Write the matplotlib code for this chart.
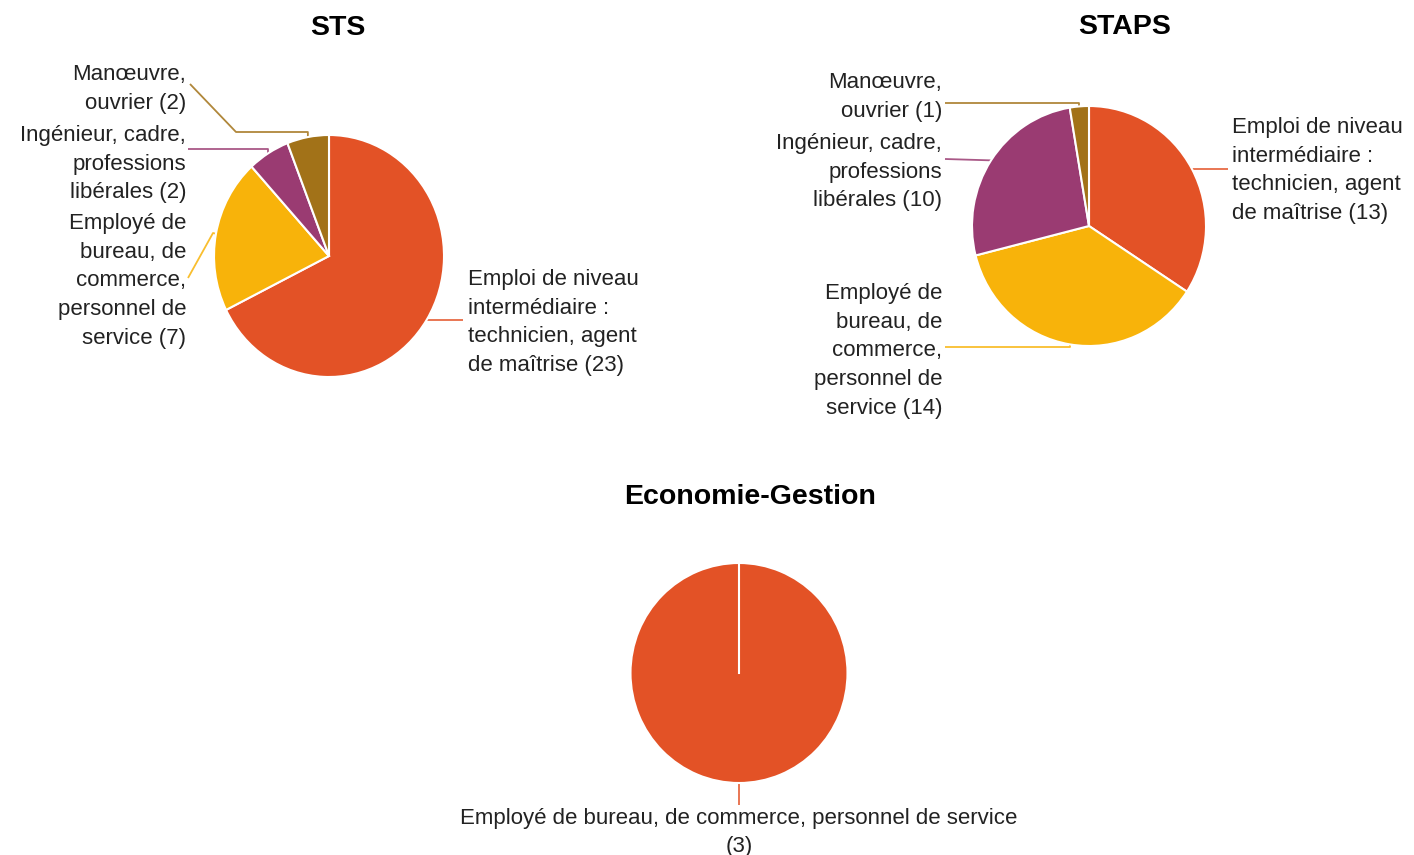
import numpy as np
import matplotlib.pyplot as plt

W, H = 1414, 855
plt.rcParams['font.family'] = ['Liberation Sans', 'DejaVu Sans']

ORANGE, YELLOW, PURPLE, BROWN = '#E35226', '#F8B30A', '#9A3B72', '#A27218'
TEXT = '#222222'

# data
cat_wrapped = [
    "Emploi de niveau\nintermédiaire :\ntechnicien, agent\nde maîtrise",
    "Employé de\nbureau, de\ncommerce,\npersonnel de\nservice",
    "Ingénieur, cadre,\nprofessions\nlibérales",
    "Manœuvre,\nouvrier",
]
sts_values = [23, 7, 2, 2]
staps_values = [13, 14, 10, 1]
eco_names = ["Employé de bureau, de commerce, personnel de service"]
eco_values = [3]

# label layout (pixel positions, y measured from top)
sts_layout = [
    dict(x=468, y=277, ha='left', knots=[(463, None)]),
    dict(x=186, y=221, ha='right', knots=[(213, 233), (188, 278)]),
    dict(x=186, y=133, ha='right', knots=[(None, 149), (188, 149)]),
    dict(x=186, y=72, ha='right', knots=[(None, 132), (236, 132), (190, 84)]),
]
staps_layout = [
    dict(x=1232, y=125, ha='left', knots=[(1228, None)]),
    dict(x=942, y=291, ha='right', knots=[(None, 347), (945, 347)]),
    dict(x=942, y=141, ha='right', knots=[(945, 159)]),
    dict(x=942, y=80, ha='right', knots=[(None, 103), (945, 103)]),
]
eco_layout = [dict(x=739, y=816, ha='center', ls=27.5, knots=[(None, 805)])]

LS = 28.7
PAD = 1.02

fig = plt.figure(figsize=(W / 100, H / 100), dpi=100)
ov = fig.add_axes([0, 0, 1, 1])
ov.set_xlim(0, W)
ov.set_ylim(H, 0)
ov.axis('off')


def draw_pie(title, title_xy, names, values, cols, center, rx, ry, layout, sep=' '):
    cx, cy = center
    ax = fig.add_axes([(cx - rx * PAD) / W, 1 - (cy + ry * PAD) / H,
                       2 * rx * PAD / W, 2 * ry * PAD / H])
    ax.pie(values, colors=cols, startangle=90, counterclock=False, radius=1,
           wedgeprops=dict(edgecolor='white', linewidth=1.5))
    if len(values) == 1:
        # full disc: keep the start edge visible as Google does
        ax.plot([0, np.cos(np.pi / 2)], [0, np.sin(np.pi / 2)], color='white', lw=1.5)
    ax.set_aspect('auto')
    ax.set_xlim(-PAD, PAD)
    ax.set_ylim(-PAD, PAD)
    ax.axis('off')

    ov.text(title_xy[0], title_xy[1], title, ha='center', va='center',
            fontsize=20.5, fontweight='bold', color='black')

    total = float(sum(values))
    cum = 0.0
    for name, v, c, lay in zip(names, values, cols, layout):
        mid = np.deg2rad((cum + v / 2) / total * 360)
        cum += v
        ex, ey = cx + rx * np.sin(mid), cy - ry * np.cos(mid)
        px, py = [ex], [ey]
        for kx, ky in lay['knots']:
            px.append(ex if kx is None else kx)
            py.append(ey if ky is None else ky)
        ov.plot(px, py, color=c, lw=1.3, alpha=0.85, solid_capstyle='butt')
        text = name + sep + f"({v})"
        step = lay.get('ls', LS)
        for i, line in enumerate(text.split('\n')):
            ov.text(lay['x'], lay['y'] + i * step, line, ha=lay['ha'],
                    va='center_baseline', fontsize=16, color=TEXT)


cols4 = [ORANGE, YELLOW, PURPLE, BROWN]
draw_pie("STS", (338, 28), cat_wrapped, sts_values, cols4, (329, 256), 115, 121, sts_layout)
draw_pie("STAPS", (1125, 27), cat_wrapped, staps_values, cols4, (1089, 226), 117, 120, staps_layout)
draw_pie("Economie-Gestion", (750, 497), eco_names, eco_values, [ORANGE], (739, 673), 108.5, 110,
         eco_layout, sep='\n')

fig.savefig('out.png', dpi=100, facecolor='white')
